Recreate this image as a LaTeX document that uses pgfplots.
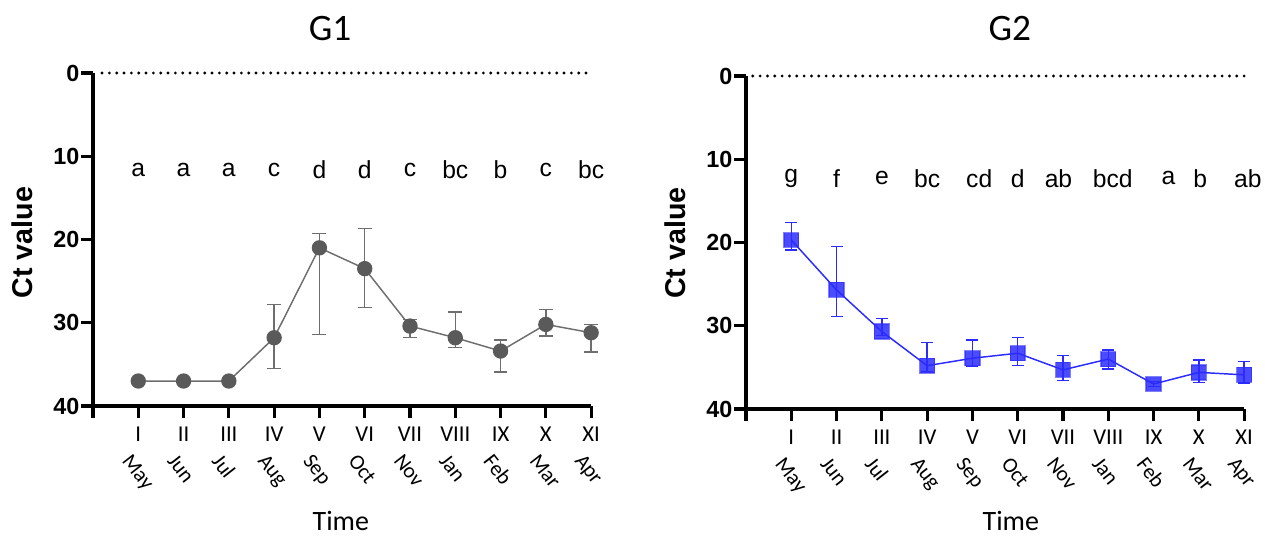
\documentclass[border=0pt]{standalone}
\usepackage{fontspec}
\setmainfont{Liberation Sans}
\newfontfamily\calf{Carlito}
\usepackage{pgfplots}
\pgfplotsset{compat=1.18}
\usepackage{pgfplotstable}

\definecolor{g1gray}{HTML}{5A5A5A}
\definecolor{g1line}{HTML}{6E6E6E}
\definecolor{g2blue}{HTML}{2B2BFF}

% x  y  ep(plus, downward)  em(minus, upward)
\pgfplotstableread{
x y ep em
1 37.0 0 0
2 37.0 0 0
3 37.0 0 0
4 31.8 3.7 4.0
5 21.0 10.4 1.7
6 23.5 4.7 4.8
7 30.4 1.4 0.8
8 31.8 1.2 3.1
9 33.4 2.5 1.3
10 30.2 1.4 1.8
11 31.2 2.3 1.0
}\gone

\pgfplotstableread{
x y ep em
1 19.7 1.2 2.1
2 25.7 3.2 5.2
3 30.7 0.5 1.6
4 34.8 0.7 2.8
5 33.9 1.0 2.2
6 33.3 1.5 1.9
7 35.3 1.3 1.7
8 34.0 1.2 1.1
9 37.0 0.3 0.3
10 35.6 1.2 1.5
11 35.9 1.0 1.6
}\gtwo

\tikzset{letter/.style={font=\fontsize{18.5}{21}\selectfont}}

\pgfplotsset{
 myaxis/.style={
  scale only axis, width=373.6pt, height=249.75pt, anchor=south west,
  xmin=0, xmax=11, ymin=0, ymax=40, y dir=reverse,
  axis lines=left, axis line style={line width=2.4pt, -},
  tick style={line width=2.4pt, black}, major tick length=9pt, tick align=outside,
  ytick={0,10,20,30,40},
  /pgf/number format/assume math mode=true,
  yticklabel style={font=\fontsize{17.5}{20}\selectfont\bfseries, inner sep=1pt},
  xtick={0,...,11}, xticklabels={,I,II,III,IV,V,VI,VII,VIII,IX,X,XI},
  xticklabel style={font=\calf\fontsize{17}{19}\selectfont, yshift=-3pt},
  extra x ticks={1,...,11},
  extra x tick labels={May,Jun,Jul,Aug,Sep,Oct,Nov,Jan,Feb,Mar,Apr},
  extra x tick style={major tick length=0pt, xticklabel style={font=\calf\fontsize{16}{18}\selectfont, yshift=-27pt, xshift=-4pt, rotate=-52, anchor=north west}},
  clip=false,
 },
}

\begin{document}
\begin{tikzpicture}
\useasboundingbox (0,0) rectangle (948.75pt,403.5pt);

% ---------- G1 ----------
\begin{axis}[myaxis, at={(69.75pt,99pt)}]
\addplot[black, line width=2.4pt, line cap=round, dash pattern=on 0pt off 5.5pt] coordinates {(0.2,0) (11,0)};
\addplot[g1line, line width=1.1pt, mark=*, mark size=5.2pt,
  mark options={fill=g1gray, draw=g1gray},
  error bars/.cd, y dir=both, y explicit,
  error bar style={g1line, line width=1.1pt},
  error mark options={rotate=90, mark size=5.2pt, g1line, line width=1.1pt}]
  table[x=x, y=y, y error plus=ep, y error minus=em] {\gone};
\node[letter] at (axis cs:1,11.6) {a};
\node[letter] at (axis cs:2,11.6) {a};
\node[letter] at (axis cs:3,11.6) {a};
\node[letter] at (axis cs:4,11.6) {c};
\node[letter] at (axis cs:5,11.6) {d};
\node[letter] at (axis cs:6,11.6) {d};
\node[letter] at (axis cs:7,11.6) {c};
\node[letter] at (axis cs:8,11.6) {bc};
\node[letter] at (axis cs:9,11.6) {b};
\node[letter] at (axis cs:10,11.6) {c};
\node[letter] at (axis cs:11,11.6) {bc};
\end{axis}

% ---------- G2 ----------
\begin{axis}[myaxis, at={(559.5pt,96.75pt)}]
\addplot[black, line width=2.4pt, line cap=round, dash pattern=on 0pt off 5.5pt] coordinates {(0.15,0) (11,0)};
\addplot[g2blue, line width=1.1pt, mark=square*, mark size=5.6pt,
  mark options={fill=g2blue, fill opacity=0.85, draw=g2blue, draw opacity=0.6},
  error bars/.cd, y dir=both, y explicit,
  error bar style={g2blue, line width=1.1pt},
  error mark options={rotate=90, mark size=4.5pt, g2blue, line width=1.1pt}]
  table[x=x, y=y, y error plus=ep, y error minus=em] {\gtwo};
\node[letter] at (axis cs:1,12.3) {g};
\node[letter] at (axis cs:2,12.3) {f};
\node[letter] at (axis cs:3,12.3) {e};
\node[letter] at (axis cs:4,12.3) {bc};
\node[letter] at (axis cs:5.15,12.3) {cd};
\node[letter] at (axis cs:6,12.3) {d};
\node[letter] at (axis cs:6.9,12.3) {ab};
\node[letter] at (axis cs:8.1,12.3) {bcd};
\node[letter] at (axis cs:9.33,12.3) {a};
\node[letter] at (axis cs:10.03,12.3) {b};
\node[letter] at (axis cs:11.08,12.3) {ab};
\end{axis}

% ---------- titles and labels ----------
\node[font=\calf\fontsize{28}{32}\selectfont] at (247.5pt,382.1pt) {G1};
\node[font=\calf\fontsize{28}{32}\selectfont] at (757.3pt,381.75pt) {G2};
\node[font=\calf\fontsize{21}{25}\selectfont, inner sep=0pt] at (255.6pt,12.5pt) {Time};
\node[font=\calf\fontsize{21}{25}\selectfont, inner sep=0pt] at (758.1pt,12.5pt) {Time};
\node[font=\fontsize{21.5}{25}\selectfont\bfseries, rotate=90] at (16.9pt,221.5pt) {Ct value};
\node[font=\fontsize{21.5}{25}\selectfont\bfseries, rotate=90] at (506.25pt,221.25pt) {Ct value};
\end{tikzpicture}
\end{document}
